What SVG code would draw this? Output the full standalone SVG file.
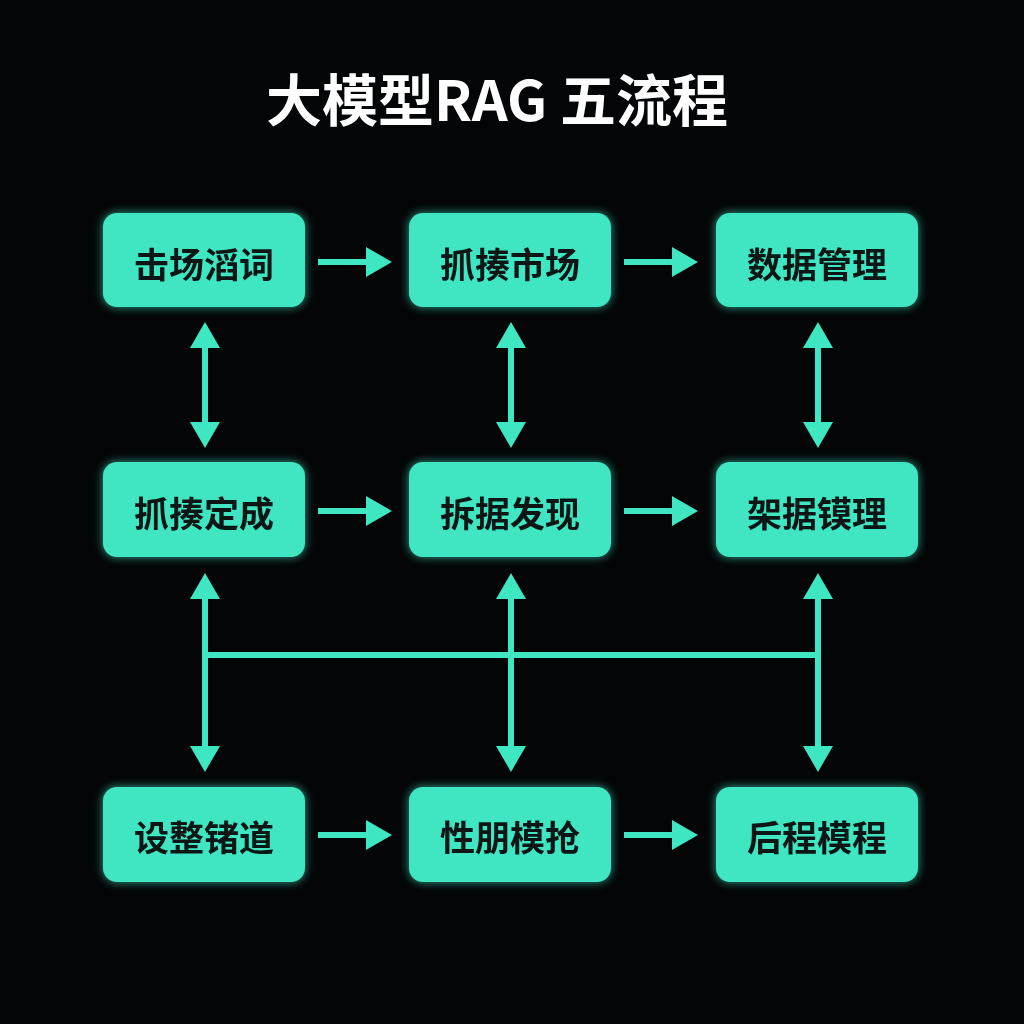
<svg xmlns="http://www.w3.org/2000/svg" width="1024" height="1024" viewBox="0 0 1024 1024">
<style>
.box{fill:#3fe6c2}
.lbl{font-family:"Noto Sans CJK SC","Liberation Sans",sans-serif;font-weight:700;font-size:35px;fill:#0b1512;text-anchor:middle;dominant-baseline:central}
.ln{stroke:#3fe6c2;stroke-width:6;fill:none}
.hd{fill:#3fe6c2}
</style>
<defs>
<filter id="glow" x="-30%" y="-30%" width="160%" height="160%"><feGaussianBlur in="SourceAlpha" stdDeviation="6"/><feFlood flood-color="#3fe6c2" flood-opacity="0.7"/><feComposite operator="in" in2="SourceAlpha"/><feGaussianBlur stdDeviation="5"/><feMerge><feMergeNode/><feMergeNode in="SourceGraphic"/></feMerge></filter>
</defs>
<rect width="1024" height="1024" fill="#030507"/>
<text x="497" y="96" font-family="'Noto Sans CJK SC','Liberation Sans',sans-serif" font-weight="700" font-size="56" fill="#ffffff" text-anchor="middle" dominant-baseline="central">大模型RAG 五流程</text>
<g id="connectors">
<g id="h-arrows">
<line class="ln" x1="318" y1="262" x2="370" y2="262"/><polygon class="hd" points="366,247 392,262 366,277"/>
<line class="ln" x1="624" y1="262" x2="676" y2="262"/><polygon class="hd" points="672,247 698,262 672,277"/>
<line class="ln" x1="318" y1="511" x2="370" y2="511"/><polygon class="hd" points="366,496 392,511 366,526"/>
<line class="ln" x1="624" y1="511" x2="676" y2="511"/><polygon class="hd" points="672,496 698,511 672,526"/>
<line class="ln" x1="318" y1="835" x2="370" y2="835"/><polygon class="hd" points="366,820 392,835 366,850"/>
<line class="ln" x1="624" y1="835" x2="676" y2="835"/><polygon class="hd" points="672,820 698,835 672,850"/>
</g>
<g id="v-arrows">
<line class="ln" x1="205" y1="340" x2="205" y2="430"/><polygon class="hd" points="190,348 205,322 220,348"/><polygon class="hd" points="190,422 205,448 220,422"/>
<line class="ln" x1="511" y1="340" x2="511" y2="430"/><polygon class="hd" points="496,348 511,322 526,348"/><polygon class="hd" points="496,422 511,448 526,422"/>
<line class="ln" x1="818" y1="340" x2="818" y2="430"/><polygon class="hd" points="803,348 818,322 833,348"/><polygon class="hd" points="803,422 818,448 833,422"/>
<line class="ln" x1="205" y1="590" x2="205" y2="755"/><polygon class="hd" points="190,599 205,573 220,599"/><polygon class="hd" points="190,746 205,772 220,746"/>
<line class="ln" x1="511" y1="590" x2="511" y2="755"/><polygon class="hd" points="496,599 511,573 526,599"/><polygon class="hd" points="496,746 511,772 526,746"/>
<line class="ln" x1="818" y1="590" x2="818" y2="755"/><polygon class="hd" points="803,599 818,573 833,599"/><polygon class="hd" points="803,746 818,772 833,746"/>
<line class="ln" x1="205" y1="655" x2="818" y2="655" stroke-width="5"/>
</g>
</g>
<g id="n1" filter="url(#glow)"><rect class="box" x="103" y="213" width="202" height="94" rx="14"/><text class="lbl" x="204" y="262">击场滔词</text></g>
<g id="n2" filter="url(#glow)"><rect class="box" x="409" y="213" width="202" height="94" rx="14"/><text class="lbl" x="510" y="262">抓揍市场</text></g>
<g id="n3" filter="url(#glow)"><rect class="box" x="716" y="213" width="202" height="94" rx="14"/><text class="lbl" x="817" y="262">数据管理</text></g>
<g id="n4" filter="url(#glow)"><rect class="box" x="103" y="462" width="202" height="95" rx="14"/><text class="lbl" x="204" y="511">抓揍定成</text></g>
<g id="n5" filter="url(#glow)"><rect class="box" x="409" y="462" width="202" height="95" rx="14"/><text class="lbl" x="510" y="511">拆据发现</text></g>
<g id="n6" filter="url(#glow)"><rect class="box" x="716" y="462" width="202" height="95" rx="14"/><text class="lbl" x="817" y="511">架据镆理</text></g>
<g id="n7" filter="url(#glow)"><rect class="box" x="103" y="787" width="202" height="95" rx="14"/><text class="lbl" x="204" y="835">设整锗道</text></g>
<g id="n8" filter="url(#glow)"><rect class="box" x="409" y="787" width="202" height="95" rx="14"/><text class="lbl" x="510" y="835">性朋模抢</text></g>
<g id="n9" filter="url(#glow)"><rect class="box" x="716" y="787" width="202" height="95" rx="14"/><text class="lbl" x="817" y="835">后程模程</text></g>
</svg>
